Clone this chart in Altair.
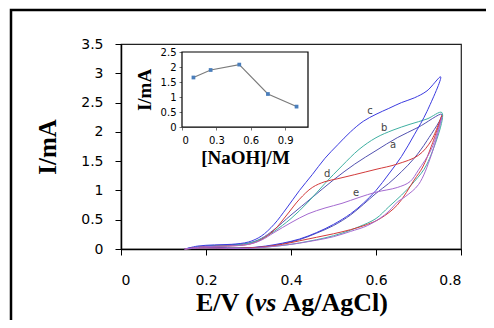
import altair as alt
import pandas as pd

# ---- main CV curves (closed loops: forward then reverse scan) ----
a_E = [0.15, 0.20, 0.25, 0.30, 0.33, 0.36, 0.40, 0.45, 0.50, 0.55, 0.60, 0.65, 0.70, 0.755,
       0.72, 0.69, 0.66, 0.63, 0.60, 0.57, 0.54, 0.50, 0.46, 0.42, 0.38, 0.34, 0.30, 0.25, 0.20, 0.15]
a_I = [0.00, 0.05, 0.07, 0.10, 0.18, 0.33, 0.58, 0.88, 1.18, 1.45, 1.68, 1.90, 2.08, 2.30,
       1.85, 1.55, 1.32, 1.12, 0.95, 0.76, 0.58, 0.40, 0.27, 0.16, 0.09, 0.04, 0.02, 0.02, 0.03, 0.00]

b_E = [0.15, 0.20, 0.25, 0.30, 0.33, 0.36, 0.40, 0.44, 0.48, 0.52, 0.56, 0.60, 0.64, 0.68, 0.72, 0.755,
       0.72, 0.69, 0.66, 0.63, 0.60, 0.56, 0.52, 0.48, 0.44, 0.40, 0.35, 0.30, 0.25, 0.20, 0.15]
b_I = [0.00, 0.05, 0.06, 0.10, 0.17, 0.30, 0.52, 0.80, 1.12, 1.42, 1.70, 1.90, 2.03, 2.13, 2.22, 2.33,
       1.45, 1.15, 0.92, 0.72, 0.52, 0.38, 0.27, 0.19, 0.13, 0.08, 0.04, 0.02, 0.01, 0.02, 0.00]

c_E = [0.15, 0.18, 0.22, 0.26, 0.30, 0.33, 0.36, 0.39, 0.42, 0.45, 0.48, 0.51, 0.54, 0.57, 0.60, 0.63, 0.66, 0.69, 0.72, 0.752,
       0.72, 0.69, 0.66, 0.63, 0.60, 0.57, 0.54, 0.50, 0.46, 0.42, 0.38, 0.34, 0.30, 0.26, 0.22, 0.18, 0.15]
c_I = [0.00, 0.05, 0.07, 0.08, 0.12, 0.22, 0.42, 0.70, 1.00, 1.27, 1.55, 1.78, 2.00, 2.18, 2.30, 2.40, 2.50, 2.58, 2.70, 2.94,
       2.35, 1.95, 1.58, 1.28, 1.00, 0.78, 0.60, 0.42, 0.28, 0.17, 0.10, 0.05, 0.02, 0.01, 0.02, 0.03, 0.00]

d_E = [0.15, 0.20, 0.25, 0.30, 0.33, 0.36, 0.39, 0.42, 0.45, 0.48, 0.51, 0.55, 0.60, 0.65, 0.70, 0.73, 0.755,
       0.73, 0.71, 0.69, 0.65, 0.61, 0.58, 0.54, 0.50, 0.46, 0.42, 0.38, 0.34, 0.30, 0.25, 0.20, 0.15]
d_I = [0.00, 0.04, 0.05, 0.08, 0.16, 0.32, 0.58, 0.85, 1.05, 1.15, 1.20, 1.27, 1.36, 1.45, 1.60, 1.85, 2.28,
       1.75, 1.40, 1.18, 0.75, 0.52, 0.42, 0.33, 0.26, 0.20, 0.14, 0.08, 0.04, 0.02, 0.01, 0.02, 0.00]

e_E = [0.15, 0.20, 0.25, 0.30, 0.33, 0.36, 0.40, 0.44, 0.48, 0.52, 0.56, 0.60, 0.65, 0.68, 0.70, 0.73, 0.755,
       0.73, 0.70, 0.67, 0.65, 0.64, 0.62, 0.58, 0.54, 0.50, 0.46, 0.42, 0.38, 0.34, 0.30, 0.25, 0.20, 0.15]
e_I = [0.00, 0.04, 0.05, 0.08, 0.15, 0.28, 0.45, 0.60, 0.70, 0.78, 0.88, 0.97, 1.05, 1.15, 1.35, 1.70, 2.25,
       1.60, 1.10, 0.90, 0.80, 0.72, 0.58, 0.40, 0.30, 0.21, 0.15, 0.10, 0.06, 0.03, 0.01, 0.01, 0.02, 0.00]

curve_names = ["a", "b", "c", "d", "e"]
curve_colors = ["#5252b0", "#3fb0a2", "#3b3be0", "#d23a3a", "#a46ad0"]

# curve labels
label_text = ["c", "b", "a", "d", "e"]
label_E = [0.586, 0.619, 0.640, 0.485, 0.553]
label_I = [2.36, 2.07, 1.78, 1.28, 0.96]

# ---- inset ----
naoh = [0.1, 0.25, 0.5, 0.75, 1.0]
inset_I = [1.65, 1.90, 2.08, 1.10, 0.68]

y_ticks = [0, 0.5, 1, 1.5, 2, 2.5, 3, 3.5]
x_ticks = [0, 0.2, 0.4, 0.6, 0.8]
inset_y_ticks = [0, 0.5, 1, 1.5, 2, 2.5]
inset_x_ticks = [0, 0.3, 0.6, 0.9]

rows = []
for name, E, I in zip(curve_names, [a_E, b_E, c_E, d_E, e_E], [a_I, b_I, c_I, d_I, e_I]):
    for k, (e, i) in enumerate(zip(E, I)):
        rows.append({"curve": name, "E": e, "I": i, "k": k})
df = pd.DataFrame(rows)
lab = pd.DataFrame({"t": label_text, "E": label_E, "I": label_I})
ins = pd.DataFrame({"x": naoh, "y": inset_I})

W, H = 340, 205
NUM = "DejaVu Sans"
SERIF = "Liberation Serif"

xs = alt.Scale(domain=[0, 0.8], nice=False)
ys = alt.Scale(domain=[0, 3.5], nice=False)

x_axis = alt.Axis(values=x_ticks, format="~g", title=None, grid=False,
                  labelFont=NUM, labelFontSize=14, labelColor="#000",
                  labelPadding=18, tickSize=6, tickColor="#000",
                  labelOverlap=False, domainColor="#000", domainWidth=1.5)
y_axis = alt.Axis(values=y_ticks, format="~g", title="I/mA", grid=False,
                  labelFont=NUM, labelFontSize=14, labelColor="#000",
                  labelPadding=12, tickSize=6, tickColor="#000",
                  labelOverlap=False, domainColor="#000", domainWidth=1.5,
                  titleFont=SERIF, titleFontSize=25, titleFontWeight="bold",
                  titleColor="#000", titlePadding=20)

curves = alt.Chart(df).mark_line(strokeWidth=1, interpolate="catmull-rom").encode(
    x=alt.X("E:Q", scale=xs, axis=x_axis),
    y=alt.Y("I:Q", scale=ys, axis=y_axis),
    color=alt.Color("curve:N", scale=alt.Scale(domain=curve_names, range=curve_colors), legend=None),
    order="k:Q",
    detail="curve:N",
)

labels = alt.Chart(lab).mark_text(font=NUM, fontSize=10, color="#444").encode(
    x=alt.X("E:Q", scale=xs, axis=x_axis), y=alt.Y("I:Q", scale=ys, axis=y_axis), text="t:N"
)

one = alt.Data(values=[{}])
ty = 259
xt1 = alt.Chart(one).mark_text(font=SERIF, fontSize=26, fontWeight="bold", align="right",
                               baseline="middle", color="#000").encode(
    x=alt.value(133), y=alt.value(ty), text=alt.value("E/V (")
)
xt2 = alt.Chart(one).mark_text(font=SERIF, fontSize=26, fontWeight="bold", fontStyle="italic",
                               align="center", baseline="middle", color="#000").encode(
    x=alt.value(144.5), y=alt.value(ty), text=alt.value("vs")
)
xt3 = alt.Chart(one).mark_text(font=SERIF, fontSize=26, fontWeight="bold", align="left",
                               baseline="middle", color="#000").encode(
    x=alt.value(161.5), y=alt.value(ty), text=alt.value("Ag/AgCl)")
)

border = alt.Chart(one).mark_rect(fill=None, stroke="#000", strokeWidth=2.5).encode(
    x=alt.value(-110), y=alt.value(-34), x2=alt.value(500), y2=alt.value(400)
)

main = alt.layer(curves, labels, xt1, xt2, xt3, border)

# inset with its own scales placed inside the main view
ixs = alt.Scale(domain=[0, 1.1], range=[61, 187], nice=False)
iys = alt.Scale(domain=[0, 2.5], range=[83, 8], nice=False)

ix_axis = alt.Axis(values=inset_x_ticks, format="~g", title="[NaOH]/M", orient="bottom", offset=-122,
                   grid=False, labelFont=NUM, labelFontSize=10, labelColor="#000", labelPadding=5,
                   tickSize=3, tickColor="#777", domainColor="#777", labelOverlap=False,
                   titleFont=SERIF, titleFontSize=19, titleFontWeight="bold", titleColor="#000",
                   titlePadding=3)
iy_axis = alt.Axis(values=inset_y_ticks, format="~g", title="I/mA", orient="left", offset=-61,
                   grid=False, labelFont=NUM, labelFontSize=10, labelColor="#000", labelPadding=3,
                   tickSize=3, tickColor="#777", domainColor="#777", labelOverlap=False,
                   titleFont=SERIF, titleFontSize=19, titleFontWeight="bold", titleColor="#000",
                   titlePadding=6)

frame = alt.Chart(one).mark_rect(fill="white", stroke="#000", strokeWidth=1.2).encode(
    x=alt.X(datum=0, type="quantitative", scale=ixs, axis=ix_axis),
    x2=alt.datum(1.1),
    y=alt.Y(datum=0, type="quantitative", scale=iys, axis=iy_axis),
    y2=alt.datum(2.5),
)
iline = alt.Chart(ins).mark_line(color="#7a7a7a", strokeWidth=1.1).encode(
    x=alt.X("x:Q", axis=ix_axis), y=alt.Y("y:Q", axis=iy_axis)
)
ipts = alt.Chart(ins).mark_point(shape="square", filled=True, size=14, color="#4a7ebb", opacity=1).encode(
    x=alt.X("x:Q", axis=ix_axis), y=alt.Y("y:Q", axis=iy_axis)
)
inset = alt.layer(frame, iline, ipts)

chart = alt.layer(main, inset).resolve_scale(
    x="independent", y="independent"
).resolve_axis(
    x="independent", y="independent"
).properties(
    width=W, height=H,
    padding={"left": 113, "top": 36, "right": 25, "bottom": 71},
    autosize=alt.AutoSizeParams(type="none"),
    background="white",
).configure_view(stroke="#222", strokeWidth=1.2)

chart.save("out.html", embed_options={"renderer": "svg", "actions": False})
